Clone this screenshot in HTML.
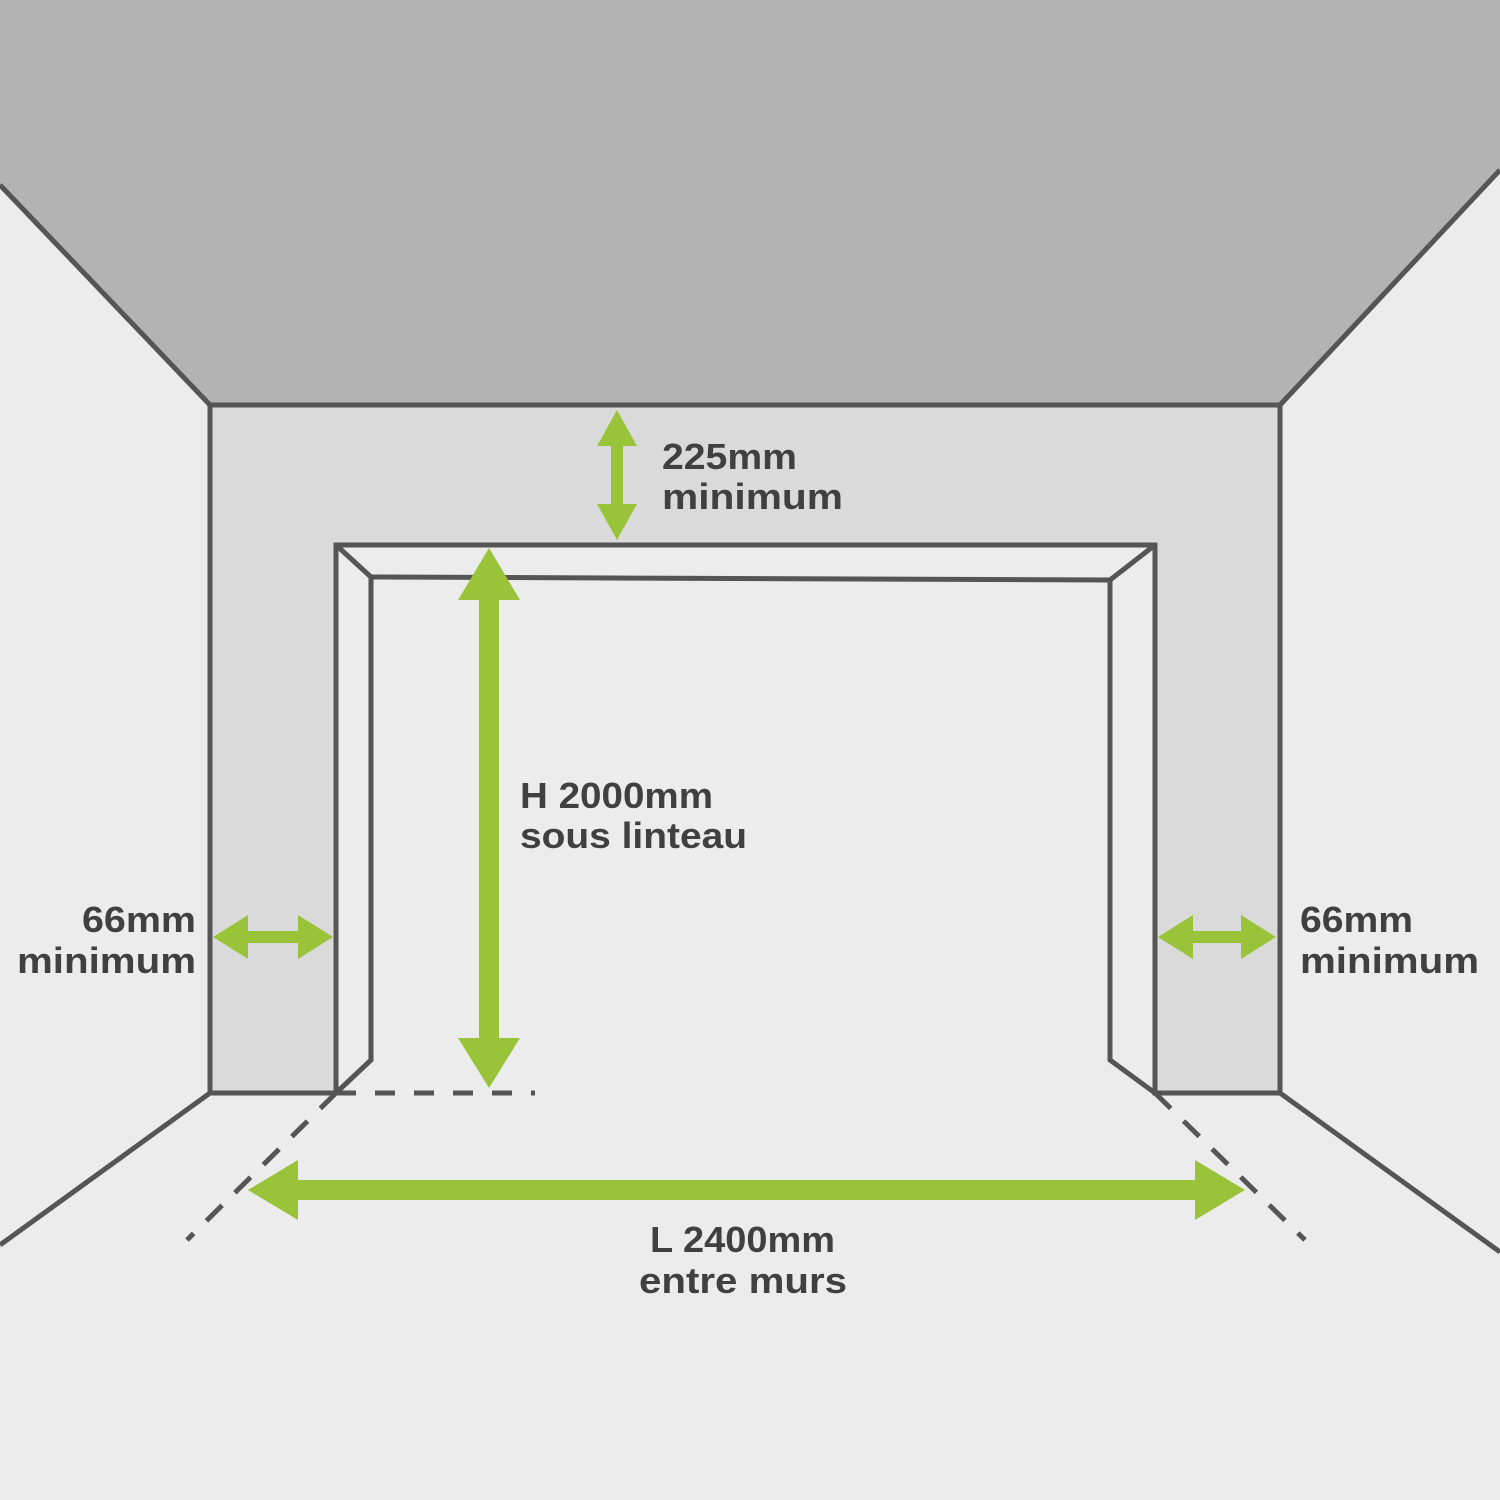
<!DOCTYPE html>
<html><head><meta charset="utf-8"><style>html,body{margin:0;padding:0;background:#ececec}svg{display:block}</style></head><body>
<svg width="1500" height="1500" viewBox="0 0 1500 1500" xmlns="http://www.w3.org/2000/svg">
<rect width="1500" height="1500" fill="#ececec"/>
<polygon points="0,0 1500,0 1500,170 1280,405 210,405 0,185" fill="#b3b3b3"/>
<rect x="210" y="405" width="1070" height="688" fill="#dadada"/>
<rect x="336" y="545" width="819" height="548" fill="#ececec"/>
<g stroke="#555" stroke-width="5" fill="none" stroke-linejoin="miter">
<line x1="0" y1="185" x2="210" y2="405"/>
<line x1="1500" y1="170" x2="1280" y2="405"/>
<line x1="210" y1="1093" x2="0" y2="1245"/>
<line x1="1280" y1="1093" x2="1500" y2="1252"/>
<polyline points="210,1093 210,405 1280,405 1280,1093 1155,1093 1155,545 336,545 336,1093 210,1093"/>
<polyline points="336,545 371,577 371,1060 336,1093"/>
<polyline points="371,577 1110,580 1110,1060 1155,1093"/>
<line x1="1155" y1="545" x2="1110" y2="580"/>
<line x1="336" y1="1093" x2="535" y2="1093" stroke-dasharray="20,19"/>
<line x1="336" y1="1093" x2="187" y2="1240" stroke-dasharray="22,18"/>
<line x1="1155" y1="1093" x2="1305" y2="1240" stroke-dasharray="22,18"/>
</g>
<g fill="#99c43a">
<rect x="611" y="440" width="12" height="72"/>
<polygon points="617,410 597,446 637,446"/><polygon points="617,540 597,504 637,504"/>
<rect x="479" y="595" width="20" height="445"/>
<polygon points="489,548 458,600 520,600"/><polygon points="489,1088 458,1038 520,1038"/>
<rect x="295" y="1180" width="902" height="20"/>
<polygon points="248,1190 298,1160 298,1220"/><polygon points="1245,1190 1195,1160 1195,1220"/>
<rect x="245" y="931" width="56" height="12"/>
<polygon points="213,937 248,915 248,959"/><polygon points="333,937 298,915 298,959"/>
<rect x="1190" y="931" width="56" height="12"/>
<polygon points="1158,937 1193,915 1193,959"/><polygon points="1276,937 1241,915 1241,959"/>
</g>
<g font-family="Liberation Sans, sans-serif" font-weight="bold" font-size="36" fill="#404040" lengthAdjust="spacingAndGlyphs">
<text x="662" y="469" textLength="135" lengthAdjust="spacingAndGlyphs">225mm</text><text x="662" y="509" textLength="181" lengthAdjust="spacingAndGlyphs">minimum</text>
<text x="520" y="808" textLength="193" lengthAdjust="spacingAndGlyphs">H 2000mm</text><text x="520" y="848" textLength="227" lengthAdjust="spacingAndGlyphs">sous linteau</text>
<text x="82" y="932" textLength="114" lengthAdjust="spacingAndGlyphs">66mm</text><text x="17" y="973" textLength="179" lengthAdjust="spacingAndGlyphs">minimum</text>
<text x="1300" y="932" textLength="113" lengthAdjust="spacingAndGlyphs">66mm</text><text x="1300" y="973" textLength="179" lengthAdjust="spacingAndGlyphs">minimum</text>
<text x="650" y="1252" textLength="185" lengthAdjust="spacingAndGlyphs">L 2400mm</text><text x="639" y="1293" textLength="208" lengthAdjust="spacingAndGlyphs">entre murs</text>
</g>
</svg>
</body></html>
